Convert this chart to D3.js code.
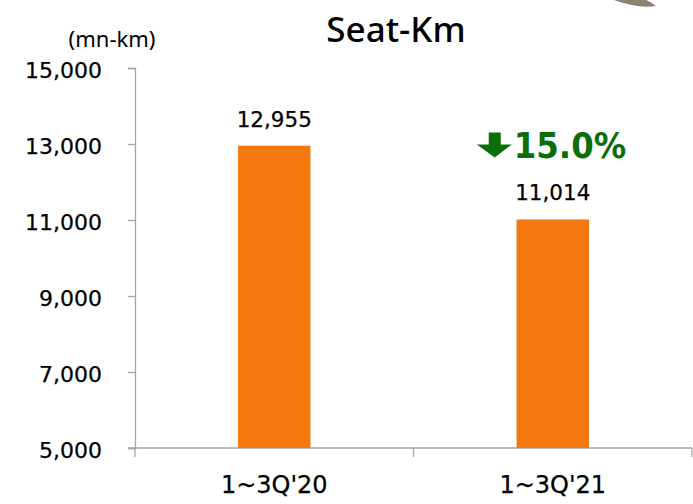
<!DOCTYPE html>
<html>
<head>
<meta charset="utf-8">
<script src="https://cdn.jsdelivr.net/npm/d3@7"></script>
<style>
  html, body { margin: 0; padding: 0; background: #fff; }
  svg { display: block; }
</style>
</head>
<body>
<svg id="chart" width="693" height="504"></svg>
<script>
// Seat-Km, first three quarters, million km
const categories = ["1~3Q'20", "1~3Q'21"];
const seatKm = [12955, 11014];
const yTicks = [5000, 7000, 9000, 11000, 13000, 15000];
const changeLabel = "15.0%";

const W = 693, H = 504;
const margin = { left: 135, right: 1, top: 68, bottom: 56 };
const svg = d3.select("#chart");

const x = d3.scaleBand()
  .domain(categories)
  .range([margin.left, W - margin.right])
  .padding(0);

const y = d3.scaleLinear()
  .domain([5000, 15000])
  .range([H - margin.bottom, margin.top]);

const axisColor = "#a6a6a6";
const numFont = "'DejaVu Sans', Verdana, sans-serif";
const fmt = d3.format(",");

// decorative swoosh in the top-right corner
svg.append("path")
  .attr("d", "M614,0 C628,5 642,8 656,6 C652,3 649,1 646,0 Z")
  .attr("fill", "#8c8373");

// y axis
const yAxis = svg.append("g")
  .attr("transform", `translate(${margin.left},0)`)
  .call(d3.axisLeft(y).tickValues(yTicks).tickFormat(fmt).tickSize(7).tickSizeOuter(7).tickPadding(26));
yAxis.selectAll("path, line").attr("stroke", axisColor).attr("stroke-width", 1.3);
yAxis.selectAll("text")
  .attr("font-family", numFont)
  .attr("font-size", 22)
  .attr("fill", "#000")
  .attr("stroke", "#000")
  .attr("stroke-width", 0.25)
  .attr("dy", "0.42em");

// x axis: baseline with ticks at the category boundaries
const x0 = x.range()[0], x1 = x.range()[1];
const yBase = y(5000);
const xAxis = svg.append("g");
xAxis.append("line")
  .attr("x1", x0 - 7).attr("x2", x1)
  .attr("y1", yBase).attr("y2", yBase)
  .attr("stroke", axisColor).attr("stroke-width", 1.3);
const bounds = categories.map(c => x(c)).concat([x1]);
xAxis.selectAll("line.bound")
  .data(bounds)
  .join("line")
  .attr("class", "bound")
  .attr("x1", d => d).attr("x2", d => d)
  .attr("y1", yBase).attr("y2", yBase + 9)
  .attr("stroke", axisColor).attr("stroke-width", 1.3);
xAxis.selectAll("text.cat")
  .data(categories)
  .join("text")
  .attr("class", "cat")
  .attr("x", d => x(d) + x.bandwidth() / 2)
  .attr("y", yBase + 45)
  .attr("text-anchor", "middle")
  .attr("font-family", numFont)
  .attr("font-size", 24)
  .attr("fill", "#000")
  .attr("stroke", "#000")
  .attr("stroke-width", 0.25)
  .text(d => d);

// bars
const barW = x.bandwidth() * 0.26;
svg.selectAll("rect.bar")
  .data(seatKm)
  .join("rect")
  .attr("class", "bar")
  .attr("x", (d, i) => x(categories[i]) + (x.bandwidth() - barW) / 2)
  .attr("y", d => y(d))
  .attr("width", barW)
  .attr("height", d => yBase - y(d))
  .attr("fill", "#f4780e");

// value labels
svg.selectAll("text.val")
  .data(seatKm)
  .join("text")
  .attr("class", "val")
  .attr("x", (d, i) => x(categories[i]) + x.bandwidth() / 2)
  .attr("y", d => y(d) - 19)
  .attr("text-anchor", "middle")
  .attr("font-family", numFont)
  .attr("font-size", 21.5)
  .attr("fill", "#000")
  .attr("stroke", "#000")
  .attr("stroke-width", 0.25)
  .text(d => fmt(d));

// change annotation above the second bar
const c2 = x(categories[1]) + x.bandwidth() / 2;
const topY = y(seatKm[1]) - 87;
const green = "#0b6e0b";
svg.append("path")
  .attr("d", `M${c2 - 64},${topY} h12 v12 h11 l-17,13 l-18,-13 h12 Z`)
  .attr("fill", green);
svg.append("text")
  .attr("x", c2 - 39)
  .attr("y", topY + 26)
  .attr("font-family", "'DejaVu Sans Condensed', 'DejaVu Sans', sans-serif")
  .attr("font-stretch", "condensed")
  .attr("font-weight", "bold")
  .attr("font-size", 36)
  .attr("fill", green)
  .text(changeLabel);

// title and unit
svg.append("text")
  .attr("x", 396).attr("y", 42)
  .attr("text-anchor", "middle")
  .attr("font-family", "'Noto Sans', sans-serif")
  .attr("font-weight", 500)
  .attr("font-size", 35)
  .attr("fill", "#000")
  .text("Seat-Km");
svg.append("text")
  .attr("x", 112).attr("y", 47)
  .attr("text-anchor", "middle")
  .attr("font-family", "'Noto Sans', sans-serif")
  .attr("font-size", 22)
  .attr("fill", "#000")
  .text("(mn-km)");
</script>
</body>
</html>
